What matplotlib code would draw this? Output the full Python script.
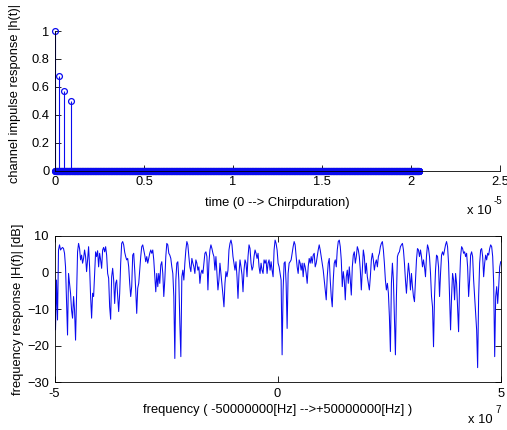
import numpy as np
import matplotlib
matplotlib.use("Agg")
import matplotlib.pyplot as plt

plt.rcParams['font.family'] = ['Liberation Sans', 'DejaVu Sans']
plt.rcParams['font.size'] = 9.3

# ---------------- data ----------------
tap_gains = [1.0, 0.68, 0.57, 0.5]
tap_delays = [0.0, 2.3e-7, 5.1e-7, 8.9e-7]      # seconds
n_samples = 2048
sample_period = 1e-8                              # seconds

top_xticks = [0, 0.5e-5, 1e-5, 1.5e-5, 2e-5, 2.5e-5]
top_xticklabels = ["0", "0.5", "1", "1.5", "2", "2.5"]
top_yticks = [0, 0.2, 0.4, 0.6, 0.8, 1.0]
top_yticklabels = ["0", "0.2", "0.4", "0.6", "0.8", "1"]

freq_min, freq_max = -5e7, 5e7
H_dB = [
    1.5, -15.7, -2.1, -13, 6.1, 7.5, 6.1, 6.5, 6.8, 6.5,
    5.2, 1.5, -7.5, -17.1, -0.3, -3, -5.7, -10.3, -12.5, -6.6,
    -10.3, -18.5, -6.6, 5.6, 7.9, 6.5, 3.4, 4.7, 2.5, 3.8,
    6.1, 4.3, 0.2, 3.4, 7, 1.5, -6.6, -12.5, -5.7, -6.6,
    -0.3, 5.6, 4.3, 5.9, 1.5, 5.2, 3.4, 1.1, 6.1, 6.8,
    5.6, 7, 4.7, -0.3, -1.6, -9.4, -12.8, -1.2, 1.1, -2.1,
    -8.5, -3, -2.1, -6.2, -10.7, -5.7, 2.5, 7.9, 8.4, 7.5,
    5.5, 4.3, 3.4, 3.8, 1.5, -3, -6.6, -3.9, 4.7, 5.2,
    0.6, -4.8, -11.2, -4.3, -3, 0.6, 4.3, 7, 7.5, 6.1,
    4.7, 2.9, 4.3, 2.5, 3.8, 5.2, 6.1, 5.2, 6.1, 3.4,
    -1.2, -5.3, -0.3, -3.9, -0.3, -3, 2, 2.9, -0.3, -6.6,
    -2.1, 4.3, 7.9, 7.5, 5.2, 4.7, 3.8, 1.5, -0.3, -6.6,
    -23.5, -2.1, 2.5, 2.9, -2.1, -13.9, -23, -1.2, 0.6, -2.1,
    2.5, 6.1, 8.4, 7.5, 4.3, 1.5, 0.2, 3.8, 2.5, 1.5,
    -0.3, 3.4, 2.5, 0.6, 1.5, -3, -0.3, 0.6, -0.3, 2.5,
    5.2, 5.6, 4.3, -4.8, 2.5, 6.1, 7.5, 6.5, 5.2, 4.3,
    0.6, 4.3, -0.3, -4.8, -2.1, 2.5, -0.3, -3, -6.2, -9.4,
    -3, 0.2, -1.2, 0.6, 6.1, 7.9, 8.8, 7.5, 4.3, 2.5,
    0.6, 2.9, -1.2, -7.1, -0.3, 3.4, 1.5, -0.7, -5.3, 0.6,
    3.4, 2.5, -1.2, 4.3, 7.5, 6.5, 2.5, 0.6, 1.5, 4.3,
    6.1, 5.2, 3.8, 5.2, 1.5, -0.3, 2.5, 0.6, -0.3, 3.4,
    2.5, 3.4, -0.3, 2.5, 3.4, 0.6, 2.9, 0.6, -1.2, 6.1,
    8.8, 7.9, 6.1, 2.5, 1.5, -0.3, -2.1, -22.5, -4.8, 2.5,
    2.9, -3, -15.3, -0.3, 2.5, 2.9, 3.4, 5.2, 7, 8.4,
    7.5, 4.3, 1.5, -0.3, 3.4, 2.5, 0.6, 2.5, -1.2, 2.5,
    1.5, -0.3, -3, 1.5, 3.8, 2.5, 4.3, 2.5, 4.7, 5.2,
    1.5, 2.5, 4.3, 6.1, 7.5, 6.1, 4.3, 2.5, 0.6, -2.1,
    -4.8, -7.5, -1.2, 2.5, 3.8, -2.1, -6.6, -9.4, -2.1, 2.5,
    3.4, 1.5, 6.1, 8.4, 8.8, 7, 3.4, -3.9, 0.2, -2.1,
    -7.5, -1.2, 0.6, -3, 1.5, -2.1, -6.2, 1.5, 4.7, 5.6,
    2.5, 4.3, 7, 6.1, 4.3, 0.6, -4.8, 0.6, 6.1, 4.3,
    -0.3, 2.5, -1.2, -3, -4.8, -1.2, 3.4, 5.2, 3.4, 0.6,
    2.5, 3.4, 1.5, 4.3, 5.2, 7, 7.9, 8.4, 6.1, 2.5,
    -2.1, -4.8, -3, -5.7, -12.1, -21.6, -3, 2.5, -2.1, -12.1,
    -22.5, -6.6, 4.3, 5.2, 5.6, 7, 7.5, 7.9, 6.1, 2.5,
    -2.1, -5.7, -1.2, 2.5, -0.3, -4.8, -0.3, -3.9, -6.6, -8,
    -2.1, 3.4, 6.5, 6.1, 4.3, 6.1, 4.3, 1.5, 3.4, 1.5,
    -1.2, 4.5, 7.5, 6.5, 4.3, -0.3, -6.6, -9.4, -20.3, -6.6,
    0.6, 4.7, 4.3, 1.5, -6.6, -0.3, 4.7, 5.6, 4.7, 6.1,
    7.5, 8.4, 7, 2.5, -6.6, -15.7, -6.6, -0.3, -2.1, -7.5,
    -0.3, -3, -9.4, -16.2, -3, 4.3, 7, 6.5, 5.2, 5.6,
    4.3, 5.2, 1.5, -6.6, -2.1, 4.7, 5.6, 4.3, -2.1, -6.6,
    -11.2, -15.7, -26, -6.6, 2.5, 6.1, 6.5, 4.3, -1.2, 2.5,
    4.7, 3.4, 5.2, 4.7, 6.5, 7.5, 7, 4.3, -3, -23,
    -6.6, -3.9, -8.5, -3.9, 1.5, 2.9,
]
bot_xticks = [-5e7, 0, 5e7]
bot_xticklabels = ["-5", "0", "5"]
bot_yticks = [-30, -20, -10, 0, 10]

# ---------------- derived ----------------
t = np.arange(n_samples) * sample_period
h = np.zeros(n_samples)
for g, d in zip(tap_gains, tap_delays):
    h[int(round(d / sample_period))] = g
freq = np.linspace(freq_min, freq_max, len(H_dB))

W, H = 507, 430
fig = plt.figure(figsize=(W / 100, H / 100), dpi=100)
fig.patch.set_facecolor('white')

blue = '#0a0af0'

# ---------------- top axes ----------------
ax1 = fig.add_axes([55 / W, 1 - 170.7 / H, 445 / W, 139.7 / H])
ml, sl, bl = ax1.stem(t, h, linefmt='-', markerfmt='o', basefmt=' ')
sl.set_color(blue)
sl.set_linewidth(0.8)
ml.set_markerfacecolor('none')
ml.set_markeredgecolor(blue)
ml.set_markersize(4.2)
ml.set_markeredgewidth(0.9)
ml.set_clip_on(False)
ax1.set_xlim(0, 2.5e-5)
ax1.set_ylim(0, 1)
ax1.set_xticks(top_xticks)
ax1.set_xticklabels(top_xticklabels)
ax1.set_yticks(top_yticks)
ax1.set_yticklabels(top_yticklabels)
ax1.spines['top'].set_visible(False)
ax1.spines['right'].set_visible(False)
ax1.tick_params(direction='in', length=4, width=0.6, pad=4)
for s in ax1.spines.values():
    s.set_linewidth(0.6)
ax1.set_xlabel("time (0 --> Chirpduration)")
ax1.xaxis.set_label_coords(0.5, -0.19)
ax1.set_ylabel("channel impulse response |h(t)|")
ax1.yaxis.set_label_coords(-0.077, 0.55)

# ---------------- bottom axes ----------------
ax2 = fig.add_axes([54.5 / W, 1 - 382.3 / H, 446.2 / W, 146.6 / H])
ax2.plot(freq, H_dB, color=blue, lw=0.75)
ax2.set_xlim(freq_min, freq_max)
ax2.set_ylim(-30, 10)
ax2.set_xticks(bot_xticks)
ax2.set_xticklabels(bot_xticklabels)
ax2.set_yticks(bot_yticks)
ax2.tick_params(direction='in', length=4, width=0.6, pad=4,
                top=True, right=True)
for s in ax2.spines.values():
    s.set_linewidth(0.6)
ax2.set_xlabel("frequency ( -50000000[Hz] -->+50000000[Hz] )")
ax2.xaxis.set_label_coords(0.5, -0.145)
ax2.set_ylabel("frequency response |H(f)| [dB]")
ax2.yaxis.set_label_coords(-0.068, 0.5)

# offset ("x 10^n") texts
fig.text(467 / W, 1 - 211 / H, "x 10", ha='left', va='center', fontsize=9.3)
fig.text(494 / W, 1 - 201 / H, "-5", ha='left', va='center', fontsize=7)
fig.text(468 / W, 1 - 420 / H, "x 10", ha='left', va='center', fontsize=9.3)
fig.text(495 / W, 1 - 410 / H, "7", ha='left', va='center', fontsize=7)

fig.savefig("out.png", dpi=100)
